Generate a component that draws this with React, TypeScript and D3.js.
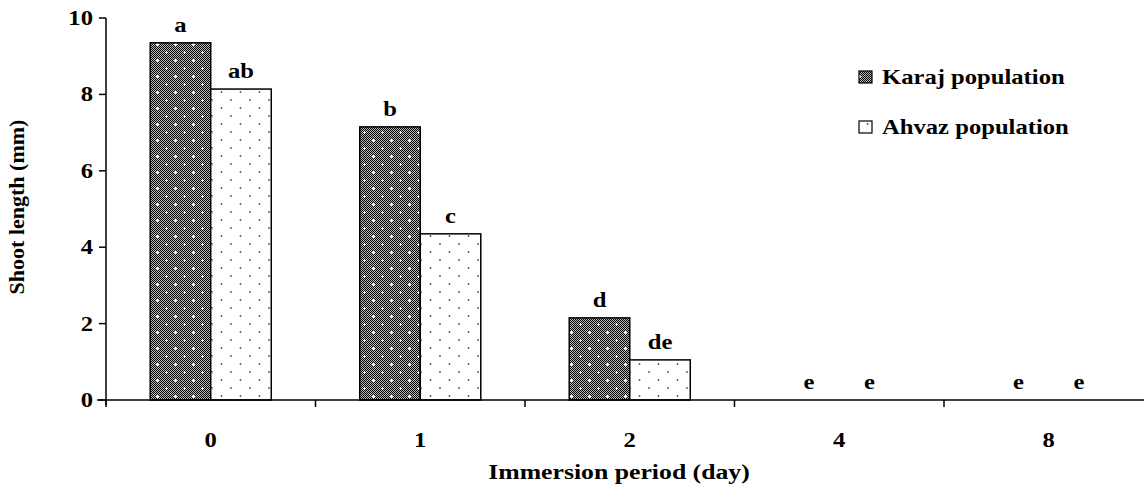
import React from "react";
import * as d3 from "d3";

const categories = ["0", "1", "2", "4", "8"];
const series = ["Karaj population", "Ahvaz population"];
const karajValues = [9.35, 7.15, 2.15, 0, 0];
const ahvazValues = [8.14, 4.35, 1.05, 0, 0];
const karajLetters = ["a", "b", "d", "e", "e"];
const ahvazLetters = ["ab", "c", "de", "e", "e"];
const yTicks = [0, 2, 4, 6, 8, 10];

const W = 1144;
const H = 489;
const left = 106;
const step = 209.5;
const baseY = 400;
const topY = 18;
const SX = 1.12;
const FONT = "'Liberation Serif'";

function SText({ x, y, children, anchor = "middle", size = 22, sx = SX }: any) {
  return (
    <text
      transform={`translate(${x},${y}) scale(${sx},1)`}
      textAnchor={anchor}
      fontFamily={FONT}
      fontWeight="bold"
      fontSize={size}
      fill="#000"
    >
      {children}
    </text>
  );
}

export default function App() {
  const x0 = d3
    .scaleBand<string>()
    .domain(categories)
    .range([left, left + step * categories.length])
    .padding(0);
  const x1 = d3
    .scaleBand<string>()
    .domain(series)
    .range([0, x0.bandwidth()])
    .paddingInner(0)
    .paddingOuter(0.731);
  const y = d3.scaleLinear().domain([0, 10]).range([baseY, topY]);

  const data = categories.map((c, i) => ({
    c,
    vals: [
      { s: series[0], v: karajValues[i], l: karajLetters[i] },
      { s: series[1], v: ahvazValues[i], l: ahvazLetters[i] },
    ],
  }));

  const fills = ["url(#karaj)", "url(#ahvaz)"];

  return (
    <svg
      width={W}
      height={H}
      style={{ position: "absolute", left: 0, top: 0, background: "#fff" }}
    >
      <defs>
        <pattern id="checker" patternUnits="userSpaceOnUse" width="2" height="2">
          <rect width="2" height="2" fill="#b8b8b8" />
          <rect x="0" y="0" width="1" height="1" fill="#000" />
          <rect x="1" y="1" width="1" height="1" fill="#000" />
        </pattern>
        <pattern id="karaj" patternUnits="userSpaceOnUse" width="18" height="16">
          <rect width="18" height="16" fill="url(#checker)" />
          <g fill="#fff">
            <rect x="3" y="4" width="3" height="1" />
            <rect x="4" y="3" width="1" height="3" />
            <rect x="12" y="12" width="3" height="1" />
            <rect x="13" y="11" width="1" height="3" />
          </g>
        </pattern>
        <pattern id="ahvaz" patternUnits="userSpaceOnUse" width="19" height="16">
          <rect width="19" height="16" fill="#fff" />
          <circle cx="3" cy="4" r="0.9" fill="#555" />
          <circle cx="12.5" cy="12" r="0.9" fill="#555" />
        </pattern>
      </defs>

      {/* bars */}
      {data.map((d) =>
        d.vals.map((b, j) => {
          const bx = (x0(d.c) as number) + (x1(b.s) as number);
          const bw = x1.bandwidth();
          const by = y(b.v);
          return (
            <g key={d.c + b.s}>
              {b.v > 0 && (
                <rect
                  x={bx}
                  y={by}
                  width={bw}
                  height={baseY - by}
                  fill={fills[j]}
                  stroke="#000"
                  strokeWidth={1.5}
                />
              )}
              <SText x={bx + bw / 2} y={by - 11}>
                {b.l}
              </SText>
            </g>
          );
        })
      )}

      {/* y axis */}
      <line x1={left} x2={left} y1={topY} y2={baseY + 5} stroke="#000" strokeWidth={1.5} />
      {yTicks.map((t) => (
        <g key={t}>
          <line x1={left - 7} x2={left} y1={y(t)} y2={y(t)} stroke="#000" strokeWidth={1.5} />
          <SText x={left - 13} y={y(t) + 7} anchor="end">
            {t}
          </SText>
        </g>
      ))}

      {/* x axis */}
      <line x1={left - 9} x2={W} y1={baseY} y2={baseY} stroke="#000" strokeWidth={1.5} />
      {categories.map((c) => (
        <line
          key={"t" + c}
          x1={x0(c) as number}
          x2={x0(c) as number}
          y1={baseY}
          y2={baseY + 7}
          stroke="#000"
          strokeWidth={1.5}
        />
      ))}
      {categories.map((c) => (
        <SText key={"l" + c} x={(x0(c) as number) + x0.bandwidth() / 2} y={447}>
          {c}
        </SText>
      ))}

      <SText x={619} y={479} sx={1.17}>
        Immersion period (day)
      </SText>

      <text
        transform="translate(24,207) rotate(-90)"
        textAnchor="middle"
        fontFamily={FONT}
        fontWeight="bold"
        fontSize={22}
      >
        Shoot  length (mm)
      </text>

      {/* legend */}
      {series.map((s, i) => (
        <g key={s}>
          <rect
            x={859}
            y={71 + i * 50}
            width={13}
            height={12}
            fill={fills[i]}
            stroke="#000"
            strokeWidth={1.2}
          />
          <SText x={882} y={84 + i * 50} anchor="start">
            {s}
          </SText>
        </g>
      ))}
    </svg>
  );
}
